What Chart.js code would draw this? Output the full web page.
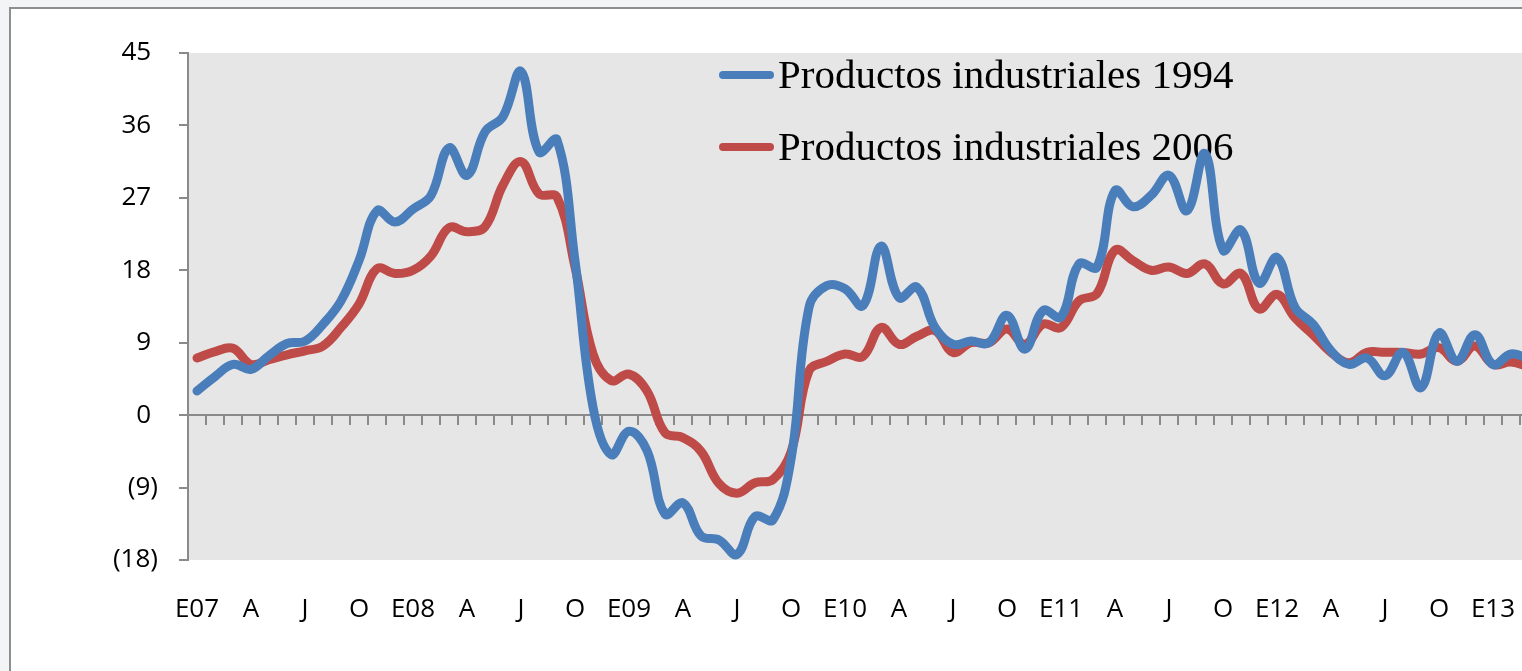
<!DOCTYPE html>
<html>
<head>
<meta charset="utf-8">
<script src="https://cdn.jsdelivr.net/npm/chart.js@4/dist/chart.umd.min.js"></script>
<style>
    html, body { margin: 0; padding: 0; width: 1522px; height: 671px; overflow: hidden; background: #f2f4f6; }
    #frame { position: absolute; left: 9px; top: 7px; width: 1600px; height: 700px; border: 2px solid #8e8e8e; background: #fff; }
    #chart { position: absolute; left: 0; top: 0; }
</style>
</head>
<body>
<div id="frame"></div>
<canvas id="chart" width="1538" height="671"></canvas>
<script>
// --- DONNÉES ---

// Mois (janvier 2007 - mars 2013)
const months = [
    'Ene-07', 'Feb-07', 'Mar-07', 'Abr-07', 'May-07', 'Jun-07', 'Jul-07', 'Ago-07', 'Sep-07', 'Oct-07', 'Nov-07', 'Dic-07',
    'Ene-08', 'Feb-08', 'Mar-08', 'Abr-08', 'May-08', 'Jun-08', 'Jul-08', 'Ago-08', 'Sep-08', 'Oct-08', 'Nov-08', 'Dic-08',
    'Ene-09', 'Feb-09', 'Mar-09', 'Abr-09', 'May-09', 'Jun-09', 'Jul-09', 'Ago-09', 'Sep-09', 'Oct-09', 'Nov-09', 'Dic-09',
    'Ene-10', 'Feb-10', 'Mar-10', 'Abr-10', 'May-10', 'Jun-10', 'Jul-10', 'Ago-10', 'Sep-10', 'Oct-10', 'Nov-10', 'Dic-10',
    'Ene-11', 'Feb-11', 'Mar-11', 'Abr-11', 'May-11', 'Jun-11', 'Jul-11', 'Ago-11', 'Sep-11', 'Oct-11', 'Nov-11', 'Dic-11',
    'Ene-12', 'Feb-12', 'Mar-12', 'Abr-12', 'May-12', 'Jun-12', 'Jul-12', 'Ago-12', 'Sep-12', 'Oct-12', 'Nov-12', 'Dic-12',
    'Ene-13', 'Feb-13', 'Mar-13'
];

// Étiquettes trimestrielles de l'axe X
const quarterLabels = [
    'E07', 'A', 'J', 'O', 'E08', 'A', 'J', 'O', 'E09', 'A', 'J', 'O',
    'E10', 'A', 'J', 'O', 'E11', 'A', 'J', 'O', 'E12', 'A', 'J', 'O', 'E13'
];

// Graduations de l'axe Y
const yMin = -18;
const yMax = 45;
const yStep = 9;

const labels1994 = 'Productos industriales 1994';
const labels2006 = 'Productos industriales 2006';

const serie1994 = [
    3.0, 4.8, 6.3, 5.7, 7.4, 8.9, 9.2, 11.3, 14.2, 19.2, 25.4, 24.0,
    25.6, 27.3, 33.2, 29.8, 35.2, 37.1, 42.7, 32.7, 34.2, 19.2, 1.0, -4.9,
    -2.0, -4.4, -12.3, -10.9, -15.0, -15.5, -17.3, -12.6, -13.0, -5.5, 13.4, 16.1,
    15.7, 13.6, 21.0, 14.6, 15.9, 10.9, 8.8, 9.2, 9.0, 12.4, 8.2, 13.0,
    12.2, 18.8, 18.4, 27.9, 25.9, 27.3, 29.8, 25.4, 32.5, 20.5, 23.0, 16.4,
    19.6, 13.4, 11.3, 8.0, 6.3, 7.1, 4.9, 7.8, 3.4, 10.2, 6.7, 10.0,
    6.3, 7.6, 7.0
];

const serie2006 = [
    7.1, 7.9, 8.3, 6.3, 6.9, 7.5, 8.0, 8.6, 10.9, 13.8, 18.2, 17.6,
    18.0, 19.8, 23.3, 22.8, 23.4, 28.6, 31.5, 27.5, 27.1, 18.4, 7.6, 4.3,
    5.1, 3.0, -2.2, -2.8, -4.5, -8.5, -9.7, -8.4, -8.0, -4.6, 5.5, 6.7,
    7.6, 7.3, 10.9, 8.8, 9.8, 10.5, 7.8, 9.0, 9.0, 10.7, 8.8, 11.3,
    10.9, 14.2, 15.1, 20.5, 19.2, 18.0, 18.4, 17.6, 18.8, 16.3, 17.6, 13.2,
    15.0, 12.1, 10.0, 7.8, 6.5, 7.8, 7.8, 7.8, 7.6, 8.4, 6.7, 8.6,
    6.3, 6.6, 6.0
];

const BLUE = '#4a7ebb';
const RED = '#be4b48';
const AXIS_GREY = '#8a8a8a';

// --- PLUGINS ---

// Fond gris de la zone de tracé
const plotBackground = {
    id: 'plotBackground',
    beforeDraw(chart) {
        const { ctx, chartArea: a } = chart;
        ctx.save();
        ctx.fillStyle = '#e6e6e6';
        ctx.fillRect(a.left, a.top, a.right - a.left, a.bottom - a.top);
        ctx.restore();
    }
};

// Légende dessinée à l'intérieur de la zone de tracé
const insideLegend = {
    id: 'insideLegend',
    beforeDatasetsDraw(chart) {
        const ctx = chart.ctx;
        ctx.save();
        chart.data.datasets.forEach((ds, i) => {
            const y = 75 + i * 72;
            ctx.strokeStyle = ds.borderColor;
            ctx.lineWidth = 8;
            ctx.lineCap = 'round';
            ctx.beginPath();
            ctx.moveTo(723, y);
            ctx.lineTo(770, y);
            ctx.stroke();
            ctx.fillStyle = '#000';
            ctx.font = '41px "Liberation Serif", serif';
            ctx.textBaseline = 'alphabetic';
            ctx.textAlign = 'left';
            ctx.fillText(ds.label, 778, y + 13);
        });
        ctx.restore();
    }
};

// --- GRAPHIQUE ---

const tickFont = { family: '"Open Sans", sans-serif', size: 26 };

new Chart(document.getElementById('chart').getContext('2d'), {
    type: 'line',
    data: {
        labels: months,
        datasets: [
            {
                label: labels1994,
                data: serie1994,
                borderColor: BLUE,
                borderWidth: 9,
                pointRadius: 0,
                tension: 0.4,
                borderCapStyle: 'round',
                borderJoinStyle: 'round'
            },
            {
                label: labels2006,
                data: serie2006,
                borderColor: RED,
                borderWidth: 9,
                pointRadius: 0,
                tension: 0.4,
                borderCapStyle: 'round',
                borderJoinStyle: 'round'
            }
        ]
    },
    options: {
        responsive: false,
        animation: false,
        layout: { padding: { top: 53, bottom: 0, left: 0, right: 0 } },
        plugins: {
            legend: { display: false },
            tooltip: { enabled: false }
        },
        scales: {
            x: {
                type: 'category',
                position: 'bottom',
                offset: true,
                grid: { display: false, drawTicks: false },
                border: { display: false },
                ticks: {
                    autoSkip: false,
                    maxRotation: 0,
                    minRotation: 0,
                    padding: 34,
                    color: '#000',
                    font: tickFont,
                    callback: (val, idx) => (idx % 3 === 0 ? quarterLabels[idx / 3] : '')
                },
                afterFit: (s) => { s.height = 111; s.paddingLeft = 0; s.paddingRight = 0; }
            },
            // Axe des abscisses sur la ligne du zéro (graduations mensuelles)
            xZero: {
                type: 'category',
                position: { y: 0 },
                offset: true,
                grid: {
                    offset: true,
                    drawOnChartArea: false,
                    drawTicks: true,
                    tickLength: 9,
                    color: AXIS_GREY,
                    lineWidth: 2
                },
                border: { display: true, color: AXIS_GREY, width: 2 },
                ticks: { display: false },
                afterFit: (s) => { s.paddingLeft = 0; s.paddingRight = 0; s.paddingTop = 0; s.paddingBottom = 0; }
            },
            y: {
                min: yMin,
                max: yMax,
                grid: {
                    drawOnChartArea: false,
                    drawTicks: true,
                    tickLength: 9,
                    color: AXIS_GREY,
                    lineWidth: 2
                },
                border: { display: true, color: AXIS_GREY, width: 2 },
                ticks: {
                    stepSize: yStep,
                    padding: 21,
                    color: '#000',
                    font: tickFont,
                    // format comptable : les positifs gardent la place de la parenthèse
                    callback: (v) => (v < 0 ? '(' + Math.abs(v) + ')' : String(v) + '\u2008')
                },
                afterFit: (s) => { s.width = 188; s.paddingTop = 0; s.paddingBottom = 0; }
            }
        }
    },
    plugins: [plotBackground, insideLegend]
});
</script>
</body>
</html>
